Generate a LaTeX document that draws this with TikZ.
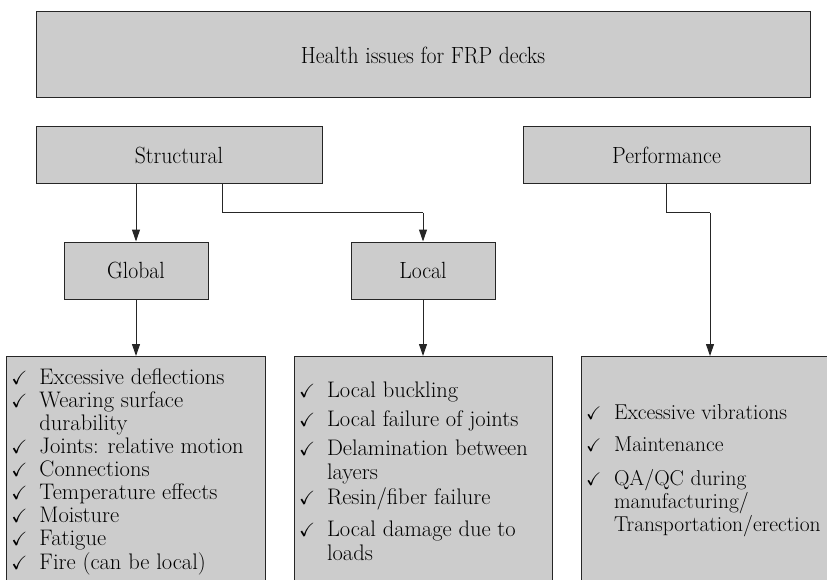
\documentclass[tikz,border=0pt]{standalone}
\usepackage{amssymb}
\usepackage{graphicx}
\usetikzlibrary{
  arrows.meta,
  chains,
  scopes
}

% check mark column and the taller heading face
\newcommand{\ck}{\makebox[28pt][l]{\scalebox{0.85}{$\checkmark$}}}
\newcommand{\hd}[1]{\scalebox{1}[1.08]{#1}}

\begin{document}
\begin{tikzpicture}[x=1pt,y=-1pt,
      box/.style={
         rectangle,
         draw=black!85,
         fill=black!20,
         line width=1pt,
         inner sep=0pt,
         font=\fontsize{21.7}{23}\selectfont
      },
      listbox/.style={
         box,
         inner sep=5pt,
         anchor=north,
         font=\fontsize{22.5}{23}\selectfont
      },
      point/.style={coordinate},>={Triangle[length=12pt,width=8pt]},
      tip/.style={->},every join/.style={draw=black!85,line width=1pt}
    ]
  \path[use as bounding box,clip] (0,0) rectangle (827,580);

  \node (top)    [box, minimum width=774, minimum height=86] at (423,55) {\hd{Health issues for FRP decks}};
  \node (struct) [box, minimum width=286, minimum height=57] at (179,155.5) {\hd{Structural}};
  \node (perf)   [box, minimum width=287, minimum height=57] at (666.5,155.5) {\hd{Performance}};
  \node (glob)   [box, minimum width=144, minimum height=57] at (136,270.5) {\hd{Global}};
  \node (loc)    [box, minimum width=144, minimum height=57] at (423,270.5) {\hd{Local}};

  \node (glist) [listbox] at (136,356) {\parbox[c][230pt][t]{249pt}{\vspace*{7pt}\noindent
    \begin{tabular}[t]{@{}l@{}l@{}}
      \ck & Excessive deflections\\
      \ck & Wearing surface\\
          & durability\\
      \ck & Joints: relative motion\\
      \ck & Connections\\
      \ck & Temperature effects\\
      \ck & Moisture\\
      \ck & Fatigue\\
      \ck & Fire (can be local)
    \end{tabular}}};
  \node (llist) [listbox] at (423,356) {\parbox[c][230pt][t]{248pt}{\vspace*{19pt}\noindent
    \fontsize{22.5}{24}\selectfont
    \begin{tabular}[t]{@{}l@{}l@{}}
      \ck & Local buckling\\[5pt]
      \ck & Local failure of joints\\[5pt]
      \ck & Delamination between\\
          & layers\\[1pt]
      \ck & Resin/fiber failure\\[8pt]
      \ck & Local damage due to\\
          & loads
    \end{tabular}}};
  \node (plist) [listbox] at (710,356) {\parbox[c][230pt][t]{248pt}{\vspace*{42pt}\noindent
    \fontsize{21.5}{23}\selectfont
    \begin{tabular}[t]{@{}l@{}l@{}}
      \ck & Excessive vibrations\\[9pt]
      \ck & Maintenance\\[11pt]
      \ck & QA/QC during\\
          & manufacturing/\\
          & Transportation/erection
    \end{tabular}}};

  % bends of the connectors
  \node (sg) [point] at (136,184) {};
  \node (sl) [point] at (222,184) {};
  \node (b1) [point] at (222,213) {};
  \node (b2) [point] at (423,213) {};
  \node (b3) [point] at (666.5,213) {};
  \node (b4) [point] at (710,213) {};

  { [start chain]
       \chainin (sg);
       \chainin (glob)    [join=by tip];
  }
  { [start chain]
       \chainin (sl);
       \chainin (b1)    [join];
       \chainin (b2)    [join];
       \chainin (loc)    [join=by tip];
  }
  { [start chain]
       \chainin (glob);
       \chainin (glist)    [join=by tip];
  }
  { [start chain]
       \chainin (loc);
       \chainin (llist)    [join=by tip];
  }
  { [start chain]
       \chainin (perf);
       \chainin (b3)    [join];
       \chainin (b4)    [join];
       \chainin (plist)    [join=by tip];
  }
\end{tikzpicture}
\end{document}
